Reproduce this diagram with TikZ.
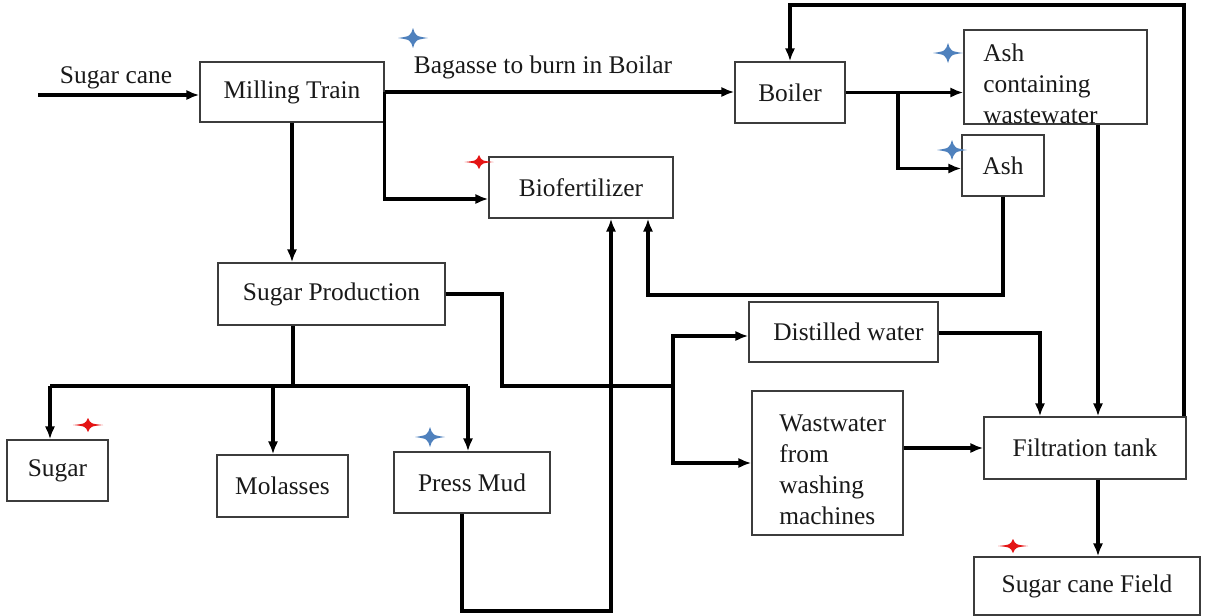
\documentclass[tikz,border=0pt]{standalone}
\usepackage{fontspec}
\setmainfont{Liberation Serif}
\usetikzlibrary{arrows.meta,calc}
\definecolor{boxline}{RGB}{60,60,60}
\definecolor{starblue}{RGB}{79,129,189}
\definecolor{starred}{RGB}{228,20,20}
\definecolor{txt}{RGB}{25,25,25}
\tikzset{
  box/.style={draw=boxline, line width=0.7pt, inner sep=0pt, text=txt, align=center,
              font=\fontsize{12.7}{15.5}\selectfont},
  lbl/.style={inner sep=0pt, text=txt, font=\fontsize{12.7}{15.5}\selectfont},
  conn/.style={line width=1.6pt, black},
  arr/.style={conn, -{Latex[length=6.5pt,width=5.2pt]}},
  pics/sparkle/.style n args={3}{code={
    \fill[#1] (-#2,0) .. controls ({-0.18*#2},{0.18*#3}) .. (0,#3)
      .. controls ({0.18*#2},{0.18*#3}) .. (#2,0)
      .. controls ({0.18*#2},{-0.18*#3}) .. (0,-#3)
      .. controls ({-0.18*#2},{-0.18*#3}) .. cycle;
  }}
}
\begin{document}
\begin{tikzpicture}[x=0.5pt,y=-0.5pt]
\useasboundingbox (0,0) rectangle (1223,616);

% boxes
\node[box, minimum width=92pt, minimum height=30pt] (mill) at (292,92) {Milling Train};
\node[box, minimum width=55pt, minimum height=30.5pt] (boiler) at (790,92.5) {Boiler};
\node[box, minimum width=91.5pt, minimum height=47pt] (acw) at (1055.5,77) {};
\node[lbl, anchor=north west, align=left] (acwtext) at (983,43) {Ash\\containing\\wastewater};
\node[box, minimum width=41pt, minimum height=30.5pt] (ash) at (1003,165.5) {Ash};
\node[box, minimum width=92pt, minimum height=30.5pt] (bio) at (581,187.5) {Biofertilizer};
\node[box, minimum width=113.5pt, minimum height=31pt] (sp) at (331.5,294) {Sugar Production};
\node[box, minimum width=94.5pt, minimum height=30pt] (dw) at (843.5,332) {\hspace*{5pt}Distilled water};
\node[box, minimum width=75.5pt, minimum height=72pt] (ww) at (827.5,463) {};
\node[lbl, anchor=north west, align=left] (wwtext) at (779,414) {Wastwater\\from\\washing\\machines};
\node[box, minimum width=101pt, minimum height=31pt] (ft) at (1085,448) {Filtration tank};
\node[box, minimum width=113pt, minimum height=29pt] (scf) at (1087,586) {Sugar cane Field};
\node[box, minimum width=50.5pt, minimum height=30.5pt] (sugar) at (57.5,470.5) {Sugar};
\node[box, minimum width=65.5pt, minimum height=31pt] (mol) at (282.5,486) {Molasses};
\node[box, minimum width=78pt, minimum height=30.5pt] (pm) at (472,482.5) {Press Mud};

% free labels
\node[lbl] (sctext) at (116,78) {Sugar cane};
\node[lbl] (bagtext) at (543,67) {Bagasse to burn in Boilar};

% stars
\pic at (413,38) {sparkle={starblue}{15}{10}};
\pic at (948,53) {sparkle={starblue}{15}{10}};
\pic at (952,150) {sparkle={starblue}{15}{10}};
\pic at (430,437) {sparkle={starblue}{15}{10}};
\pic at (479,162) {sparkle={starred}{14.5}{7}};
\pic at (88,425) {sparkle={starred}{15}{7}};
\pic at (1013,546) {sparkle={starred}{15}{7}};

% coordinates
\coordinate (scstart) at (38,95);
\coordinate (bj) at (898,93);
\coordinate (ashloop) at (648,295);
\coordinate (spturn) at (502,386);
\coordinate (spj) at (673,386);
\coordinate (pj) at (293,386);
\coordinate (b1) at (50,386);
\coordinate (b2) at (273,386);
\coordinate (b3) at (468,386);
\coordinate (pml) at (462,611);
\coordinate (pmr) at (611,611);
\coordinate (dwj) at (1040,333);
\coordinate (acwx) at (1098,0);
\coordinate (lt) at (1184,5);

% connectors
\draw[arr] (scstart) -- (scstart -| mill.west);
\draw[arr] (mill.east) -- (mill.east -| boiler.west);
\draw[arr] (mill.east) |- ([yshift=-5.75pt]bio.west);
\draw[arr] (mill.south) -- (mill.south |- sp.north);
\draw[arr] (boiler.east) -- (boiler.east -| acw.west);
\draw[arr] (bj) |- ([yshift=-1.5pt]ash.west);
\draw[arr] (ash.south) |- (ashloop) -- (ashloop |- bio.south);
\draw[conn] (sp.east) -| (spturn) -- (spj);
\draw[arr] (spj) |- ([yshift=-2pt]dw.west);
\draw[arr] (spj) |- (ww.west);
\draw[conn] (sp.south -| pj) -- (pj);
\draw[conn] (b1) -- (b3);
\draw[arr] (b1) -- (b1 |- sugar.north);
\draw[arr] (b2) -- (b2 |- mol.north);
\draw[arr] (b3) -- (b3 |- pm.north);
\draw[arr] (pml |- pm.south) -- (pml) -- (pmr) -- (pmr |- bio.south);
\draw[arr] (dw.east |- dwj) -- (dwj) -- (dwj |- ft.north);
\draw[arr] (acwx |- acw.south) -- (acwx |- ft.north);
\draw[arr] (ww.east |- ft.west) -- (ft.west);
\draw[arr] (lt |- ft.north) -- (lt) -| (boiler.north);
\draw[arr] (acwx |- ft.south) -- (acwx |- scf.north);
\end{tikzpicture}
\end{document}
